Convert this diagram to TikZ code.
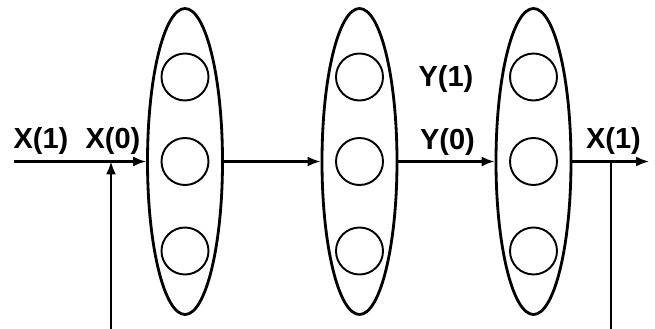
\documentclass[tikz,border=0pt]{standalone}
\usepackage{fontspec}
\setmainfont{Liberation Sans}
\usetikzlibrary{shapes.geometric,arrows.meta}
\tikzset{
    layer/.style={draw, ellipse, line width=1.6pt, minimum width=1.5cm, minimum height=6.12cm, inner sep=0pt},
    unit/.style={draw, circle, line width=1.1pt, minimum size=0.94cm, inner sep=0pt},
    flow/.style={line width=1.2pt, -{Latex[length=2.6mm,width=2mm]}},
    lbl/.style={font=\bfseries\fontsize{16.5}{18}\selectfont, inner sep=0pt}
}
\begin{document}
\begin{tikzpicture}
    \useasboundingbox (0,0) rectangle (13.1,6.58);

    % слои сети
    \foreach \i/\x in {1/3.70,2/7.19,3/10.67}{
        \node[layer] (e\i) at (\x,3.35) {};
        \foreach \j/\y in {1/5.04,2/3.35,3/1.56}{
            \node[unit] (c\i\j) at (\x,\y) {};
        }
    }

    % вход и обратная связь
    \coordinate (in) at (0.28,3.35);
    \coordinate (fb) at (2.22,0);
    \coordinate (fbtop) at (2.22,3.35);
    \draw[flow] (in) -- (e1.west);
    \draw[flow] (fb) -- (fbtop);

    % связи между слоями
    \draw[flow] (e1.east) -- (e2.west);
    \draw[flow] (e2.east) -- (e3.west);

    % выход
    \coordinate (out) at (12.98,3.35);
    \coordinate (tap) at (12.22,3.35);
    \coordinate (tapbot) at (12.22,0);
    \draw[flow] (e3.east) -- (out);
    \draw[line width=1.2pt] (tap) -- (tapbot);

    % подписи
    \node[lbl] (x1) at (0.82,3.76) {X(1)};
    \node[lbl] (x0) at (2.26,3.76) {X(0)};
    \node[lbl] (y1) at (8.92,5.0) {Y(1)};
    \node[lbl] (y0) at (8.95,3.74) {Y(0)};
    \node[lbl] (x1out) at (12.27,3.76) {X(1)};
\end{tikzpicture}
\end{document}
